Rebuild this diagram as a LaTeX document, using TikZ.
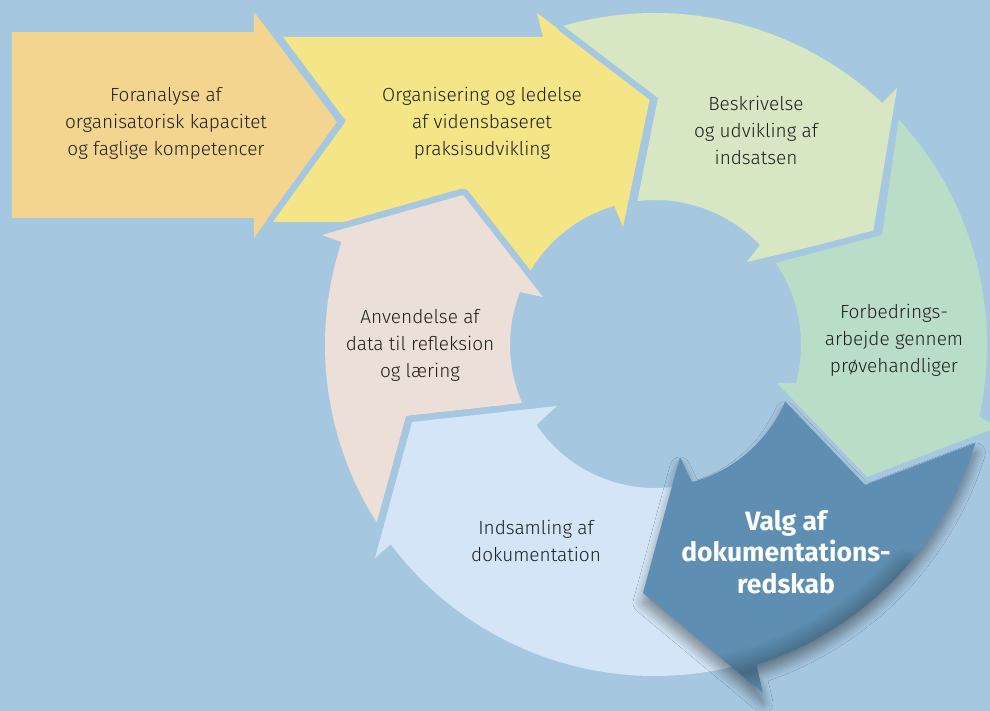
\documentclass[tikz,border=0pt]{standalone}
\usepackage{fontspec}
\setmainfont{Fira Sans Light}[BoldFont={Fira Sans Bold}]
\usetikzlibrary{shadows.blur}

% palette
\definecolor{bg}{HTML}{A6C7E0}
\definecolor{cOrange}{HTML}{F4D590}
\definecolor{cYellow}{HTML}{F4E586}
\definecolor{cLGreen}{HTML}{D7E7C4}
\definecolor{cMint}{HTML}{BADDC7}
\definecolor{cDBlue}{HTML}{5E8FB2}
\definecolor{cLBlue}{HTML}{D3E5F6}
\definecolor{cBeige}{HTML}{EBDFD8}
\definecolor{ink}{HTML}{1E1E1E}

\begin{document}
\begin{tikzpicture}[x=1pt,y=1pt,
  halo/.style={preaction={draw=bg,line width=13pt,line join=round}},
  lbl/.style={align=center,font=\fontsize{19}{27}\selectfont,text=ink,inner sep=0pt},
  keylbl/.style={align=center,font=\fontsize{26.5}{31.5}\selectfont\bfseries,text=white,inner sep=0pt},
  ]
% canvas, origin at the centre of the cycle
\fill[bg] (-655,-366) rectangle (335,345);
\useasboundingbox (-655,-366) rectangle (335,345);

% straight arrow 1
\path[fill=cOrange] (-643,313) -- (-401,313) -- (-401,333) -- (-318,223)
  -- (-401,107) -- (-401,127) -- (-643,127) -- cycle;

% straight arrow 2, bending into the cycle
\path[fill=cYellow, halo] (-372,308) -- (-112,308) -- (-118,332) -- (-5,247)
  -- (-32,118) -- (106.3:145) arc[start angle=106.3, end angle=150, radius=145]
  -- (-140,60) -- (-180,123) -- (-382,123) -- (-309,224) -- cycle;

% cycle arrow: Anvendelse
\path[fill=cBeige, halo] (212.5:330) arc[start angle=212.5, end angle=161.8, radius=330]
  -- (-333,110) -- (-192,150) -- (-112,48)
  -- (158.6:145) arc[start angle=158.6, end angle=203.6, radius=145]
  -- (-249,-71) -- cycle;

% cycle arrow: Indsamling
\path[fill=cLBlue, halo] (-45:331) arc[start angle=-45, end angle=-143, radius=331]
  -- (-280,-213) -- (-243,-77) -- (-98,-61)
  -- (-146:143) arc[start angle=-146, end angle=-60, radius=143] -- cycle;

% cycle arrow: Beskrivelse
\path[fill=cLGreen, halo] (106:332) arc[start angle=106, end angle=46.8, radius=332]
  -- (46.7:353) -- (218,113) -- (92,83)
  -- (43.6:145) arc[start angle=43.6, end angle=97, radius=145]
  -- (3,247) -- cycle;

% cycle arrow: Forbedringsarbejde
\path[fill=cMint, halo] (42.8:332) arc[start angle=42.8, end angle=-12.4, radius=332]
  -- (-13.5:352) -- (212,-132) -- (122,-38)
  -- (-15:146) arc[start angle=-15, end angle=34.2, radius=146]
  -- (227,110) -- cycle;

% highlighted cycle arrow: Valg af dokumentationsredskab
\def\valgpath{(-17:335) arc[start angle=-17, end angle=-72.4, radius=335]
  -- (108,-348) -- (-12,-248) -- (25,-112)
  -- (-74.9:142) arc[start angle=-74.9, end angle=-23.5, radius=142]
  -- (210,-140) -- cycle}
\path[fill=cDBlue, blur shadow={shadow xshift=0pt, shadow yshift=-10pt,
    shadow blur radius=10pt, shadow blur steps=14, shadow opacity=42}] \valgpath;
% soft darkening along the lower outer rim
\begin{scope}
  \clip \valgpath;
  \foreach \w in {48,44,...,4}
    \draw[black, opacity=0.018, line width=\w pt, line cap=round]
      (-42:340) arc[start angle=-42, end angle=-78, radius=340];
\end{scope}

% labels
\node[lbl] (foranalyse) at (-489,222) {Foranalyse af\\organisatorisk kapacitet\\og faglige kompetencer};
\node[lbl] (organisering) at (-173,222) {Organisering og ledelse\\af vidensbaseret\\praksisudvikling};
\node[lbl] (beskrivelse) at (101,215) {Beskrivelse\\og udvikling af\\indsatsen};
\node[lbl] (forbedring) at (239,5) {Forbedrings-\\arbejde gennem\\prøvehandliger};
\node[keylbl] (valg) at (131,-207) {Valg af\\dokumentations-\\redskab};
\node[lbl] (indsamling) at (-119,-196) {Indsamling af\\dokumentation};
\node[lbl] (anvendelse) at (-235,0) {Anvendelse af\\data til refleksion\\og læring};
\end{tikzpicture}
\end{document}
